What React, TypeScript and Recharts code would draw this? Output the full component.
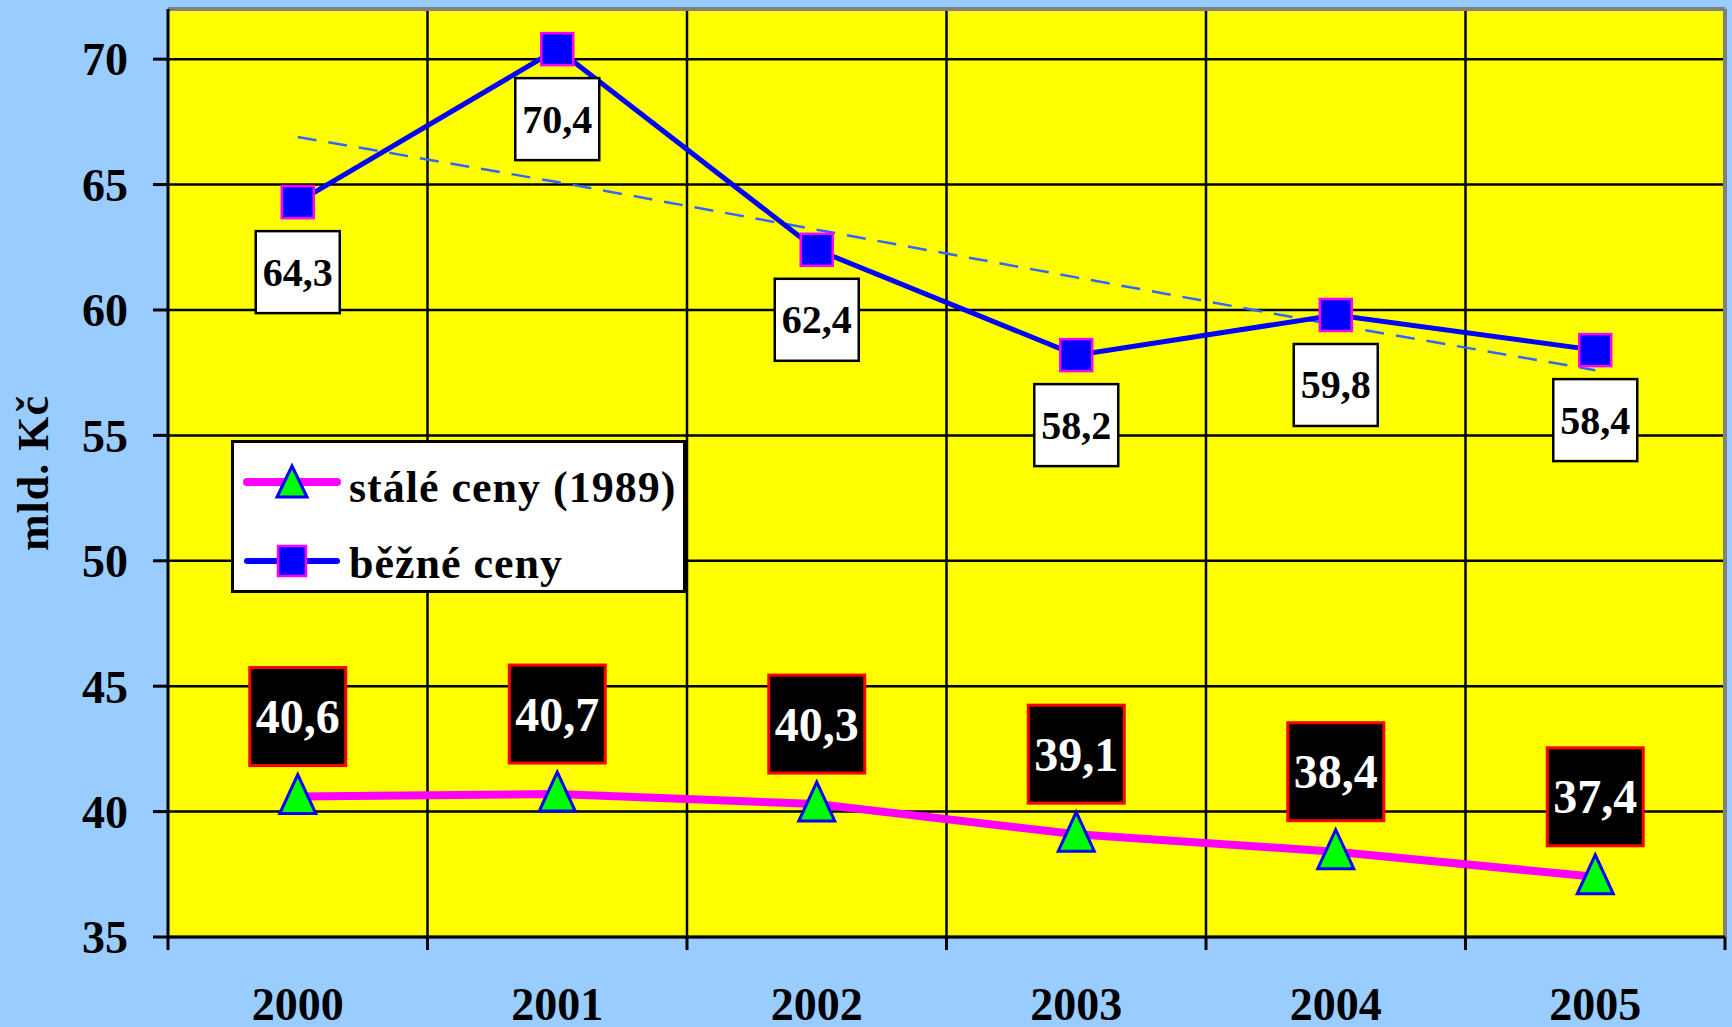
import {
  CartesianGrid,
  Label,
  LabelList,
  Legend,
  Line,
  LineChart,
  ReferenceLine,
  XAxis,
  YAxis
} from "recharts";

const years = ["2000", "2001", "2002", "2003", "2004", "2005"];
const bezneCeny = [64.3, 70.4, 62.4, 58.2, 59.8, 58.4];
const staleCeny = [40.6, 40.7, 40.3, 39.1, 38.4, 37.4];
// dashed trend of běžné ceny
const trendBezne = [66.9, 65.1, 63.2, 61.3, 59.4, 57.6];
const yTicks = [35, 40, 45, 50, 55, 60, 65, 70];

const data = years.map((year, i) => ({
  year,
  bezne: bezneCeny[i],
  stale: staleCeny[i],
  trend: trendBezne[i]
}));

const FONT = '"Liberation Serif", "Times New Roman", serif';
const fmt = (v: number) => v.toFixed(1).replace(".", ",");
const Y_MIN = 35;
const Y_MAX = 72;
const TICK_BELOW = 34.48; // tick marks hang ~13px under the axis

const SquareDot = (props: any) => {
  const { cx, cy, index } = props;
  if (cx == null || cy == null) return null;
  return (
    <rect
      key={`sq-${index}`}
      x={cx - 16}
      y={cy - 16}
      width={32}
      height={32}
      fill="#0000FF"
      stroke="#FF00FF"
      strokeWidth={2.5}
    />
  );
};

const TriangleDot = (props: any) => {
  const { cx, cy, index } = props;
  if (cx == null || cy == null) return null;
  return (
    <polygon
      key={`tr-${index}`}
      points={`${cx},${cy - 22} ${cx - 18},${cy + 17} ${cx + 18},${cy + 17}`}
      fill="#00FF00"
      stroke="#0000FF"
      strokeWidth={3}
    />
  );
};

const WhiteBox = (props: any) => {
  const { x, y, value } = props;
  const cy = y + 70;
  return (
    <g>
      <rect x={x - 42} y={cy - 41} width={84} height={82} fill="#FFFFFF" stroke="#000000" strokeWidth={2.5} />
      <text
        x={x}
        y={cy}
        textAnchor="middle"
        dominantBaseline="central"
        fontFamily={FONT}
        fontWeight="bold"
        fontSize={40}
        fill="#000000"
      >
        {fmt(value)}
      </text>
    </g>
  );
};

const BlackBox = (props: any) => {
  const { x, y, value } = props;
  const cy = y - 80;
  return (
    <g>
      <rect x={x - 48} y={cy - 49} width={96} height={98} fill="#000000" stroke="#FF0000" strokeWidth={3} />
      <text
        x={x}
        y={cy}
        textAnchor="middle"
        dominantBaseline="central"
        fontFamily={FONT}
        fontWeight="bold"
        fontSize={48}
        fill="#FFFFFF"
      >
        {fmt(value)}
      </text>
    </g>
  );
};

const YTitle = (props: any) => {
  const { viewBox } = props;
  const x = viewBox.x + 33;
  const y = viewBox.y + viewBox.height / 2;
  return (
    <text
      x={x}
      y={y}
      transform={`rotate(-90 ${x} ${y})`}
      textAnchor="middle"
      dominantBaseline="central"
      fontFamily={FONT}
      fontWeight="bold"
      fontSize={44}
      letterSpacing={1}
      fill="#000000"
    >
      mld. Kč
    </text>
  );
};

const LegendBox = () => (
  <svg width={455} height={153} style={{ display: "block" }}>
    <rect x={1.5} y={1.5} width={452} height={150} fill="#FFFFFF" stroke="#000000" strokeWidth={3} />
    <line x1={16} y1={42} x2={106} y2={42} stroke="#FF00FF" strokeWidth={8} strokeLinecap="round" />
    <polygon points="61,26 46,57 76,57" fill="#00FF00" stroke="#0000FF" strokeWidth={3} />
    <text x={118} y={62} fontFamily={FONT} fontWeight="bold" fontSize={44} letterSpacing={1} fill="#000000">
      stálé ceny (1989)
    </text>
    <line x1={16} y1={121} x2={106} y2={121} stroke="#0000FF" strokeWidth={6} strokeLinecap="round" />
    <rect x={47} y={106} width={28} height={30} fill="#0000FF" stroke="#FF00FF" strokeWidth={2.5} />
    <text x={118} y={138} fontFamily={FONT} fontWeight="bold" fontSize={44} letterSpacing={1} fill="#000000">
      běžné ceny
    </text>
  </svg>
);

export default function App() {
  const tickStyle = { fill: "#000000", fontSize: 46, fontWeight: "bold", fontFamily: FONT };
  return (
    <div
      style={{
        position: "fixed",
        left: 0,
        top: 0,
        width: 1732,
        height: 1027,
        background: "#99CCFF",
        overflow: "hidden"
      }}
    >
      <LineChart width={1732} height={1027} data={data} margin={{ top: 9, right: 7, bottom: 0, left: 0 }}>
        <XAxis
          dataKey="year"
          scale="band"
          height={90}
          tickLine={false}
          tickSize={0}
          tickMargin={50}
          axisLine={{ stroke: "#000000", strokeWidth: 3 }}
          tick={tickStyle}
          interval={0}
        />
        <YAxis
          type="number"
          domain={[Y_MIN, Y_MAX]}
          ticks={yTicks}
          allowDataOverflow
          width={168}
          tickSize={15}
          tickMargin={25}
          tickLine={{ stroke: "#000000", strokeWidth: 3 }}
          axisLine={{ stroke: "#000000", strokeWidth: 3 }}
          tick={tickStyle}
        >
          <Label content={YTitle} />
        </YAxis>
        <CartesianGrid vertical={false} fill="#FFFF00" fillOpacity={1} stroke="#000000" strokeWidth={2.5} />

        {/* category boundaries: grid lines and tick marks between the years */}
        {years.slice(1).map((yr) => (
          <ReferenceLine key={`v-${yr}`} x={yr} position="start" stroke="#000000" strokeWidth={2.5} />
        ))}
        {years.map((yr) => (
          <ReferenceLine
            key={`t-${yr}`}
            segment={[
              { x: yr, y: Y_MIN },
              { x: yr, y: TICK_BELOW }
            ]}
            position="start"
            ifOverflow="visible"
            stroke="#000000"
            strokeWidth={3}
          />
        ))}
        <ReferenceLine
          segment={[
            { x: years[years.length - 1], y: Y_MIN },
            { x: years[years.length - 1], y: TICK_BELOW }
          ]}
          position="end"
          ifOverflow="visible"
          stroke="#000000"
          strokeWidth={3}
        />
        <ReferenceLine y={Y_MAX} stroke="#808080" strokeWidth={4} ifOverflow="visible" />
        <ReferenceLine
          x={years[years.length - 1]}
          position="end"
          stroke="#808080"
          strokeWidth={4}
          ifOverflow="visible"
        />

        <Legend
          layout="horizontal"
          align="center"
          verticalAlign="middle"
          content={LegendBox}
          wrapperStyle={{ left: 231, top: 440, width: 455, height: 153 }}
        />
        <Line
          dataKey="trend"
          stroke="#3366FF"
          strokeWidth={2.5}
          strokeDasharray="19 12"
          dot={false}
          activeDot={false}
          legendType="none"
          isAnimationActive={false}
        />
        <Line
          dataKey="bezne"
          name="běžné ceny"
          stroke="#0000FF"
          strokeWidth={5}
          dot={SquareDot}
          activeDot={false}
          isAnimationActive={false}
        >
          <LabelList dataKey="bezne" content={WhiteBox} />
        </Line>
        <Line
          dataKey="stale"
          name="stálé ceny (1989)"
          stroke="#FF00FF"
          strokeWidth={8}
          dot={TriangleDot}
          activeDot={false}
          isAnimationActive={false}
        >
          <LabelList dataKey="stale" content={BlackBox} />
        </Line>
      </LineChart>
    </div>
  );
}
